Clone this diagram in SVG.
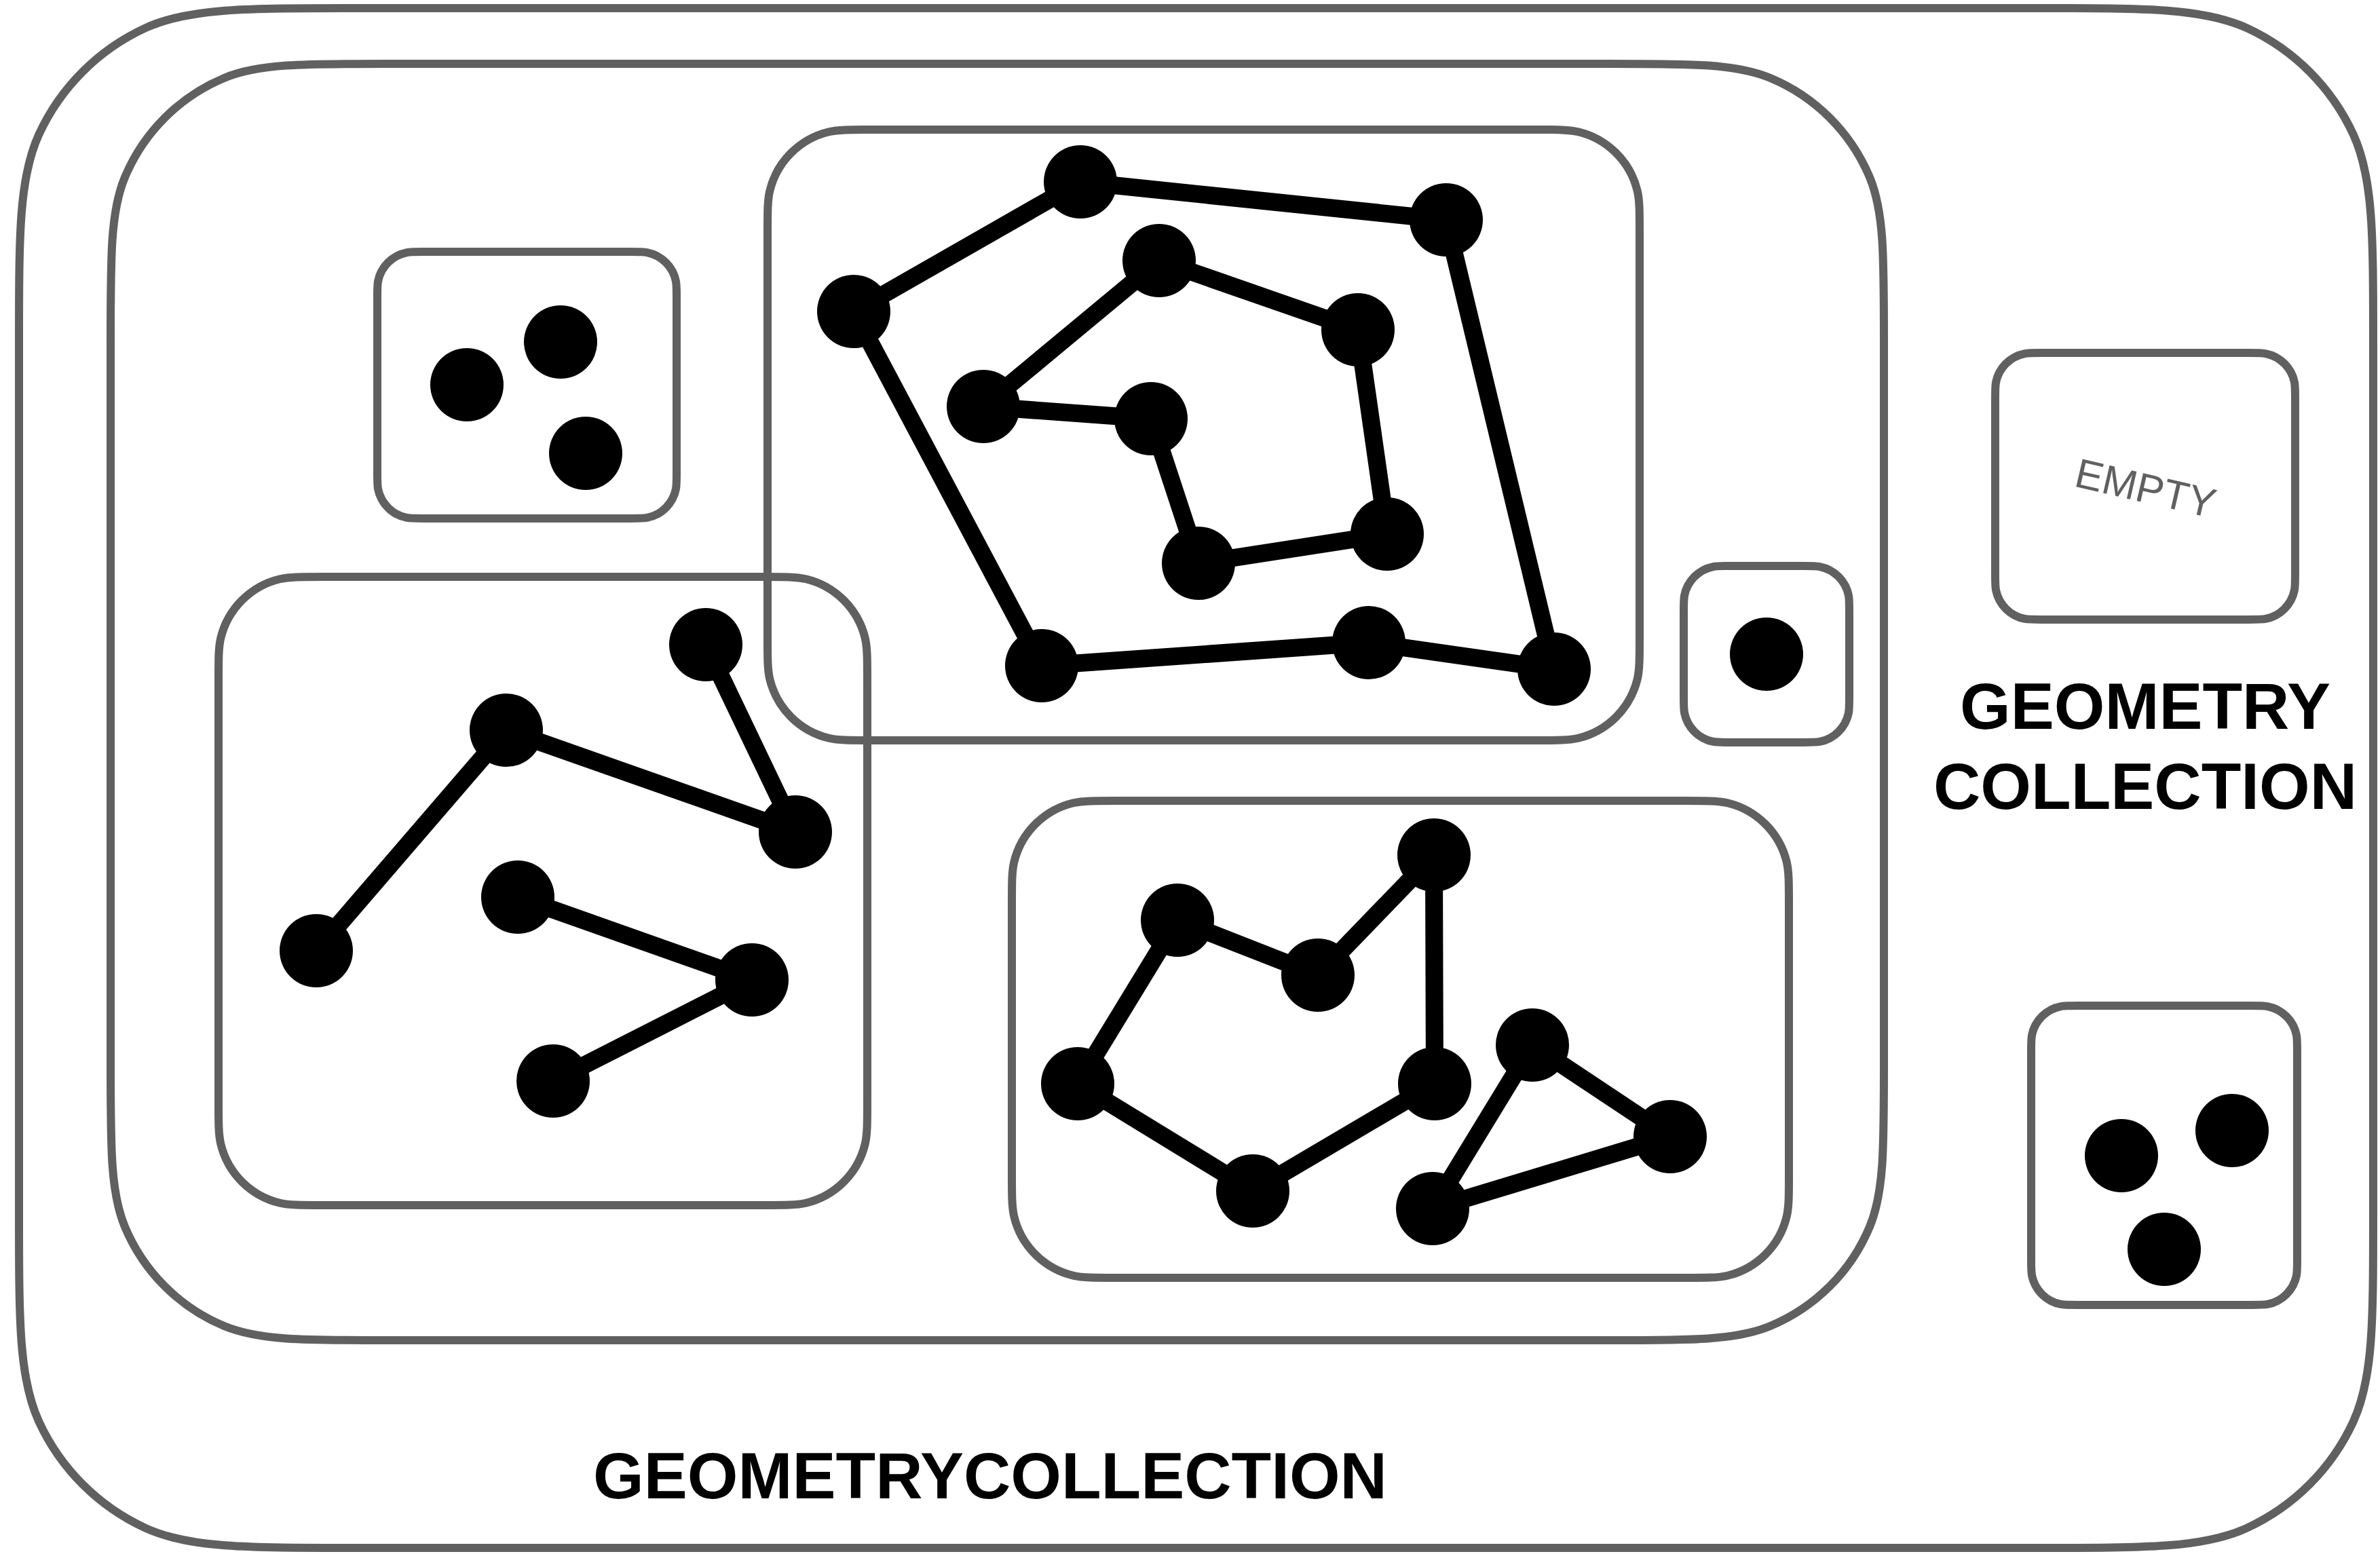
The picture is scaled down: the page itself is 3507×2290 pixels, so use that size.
<svg xmlns="http://www.w3.org/2000/svg" width="3507" height="2290" viewBox="0 0 3507 2290">
<style>
.box{fill:none;stroke:#606060;stroke-width:12;stroke-linejoin:round}
.ln{fill:none;stroke:#000;stroke-width:26;stroke-linejoin:round;stroke-linecap:round}
.pt{fill:#000}
.lbl{font-family:"Liberation Sans",Arial,Helvetica,sans-serif;font-weight:bold;font-size:96px;fill:#000;text-anchor:middle}
.empty{font-family:"Liberation Sans",Arial,Helvetica,sans-serif;font-size:61px;fill:#606060;text-anchor:middle}
</style>
<rect width="3507" height="2290" fill="#fff"/>

<g id="geometrycollection-outer">
<path class="box" d="M 524 12 H 3001 c 164.17,0 246.26,0 310.01,29.39 a 320,320 0 0 1 156.6,156.6 c 29.39,63.75 29.39,145.84 29.39,310.01 V 1785 c 0,164.17 0,246.26 -29.39,310.01 a 320,320 0 0 1 -156.6,156.6 c -63.75,29.39 -145.840,29.39 -310.01,29.39 H 524 c -164.17,0 -246.26,0 -310.01,-29.39 a 320,320 0 0 1 -156.6,-156.6 c -29.39,-63.75 -29.39,-145.84 -29.39,-310.01 V 508 c 0,-164.17 0,-246.26 29.39,-310.01 a 320,320 0 0 1 156.6,-156.6 c 63.75,-29.39 145.84,-29.39 310.01,-29.39 Z"/>
<text class="lbl" x="1459" y="2208">GEOMETRYCOLLECTION</text>
</g>

<g id="geometrycollection-inner">
<path class="box" d="M 571 94 H 2368 c 126.74,0 190.11,0 240.09,20.7 a 272,272 0 0 1 147.21,147.21 c 20.7,49.98 20.7,113.35 20.7,240.09 V 1567 c 0,126.74 0,190.11 -20.7,240.09 a 272,272 0 0 1 -147.21,147.21 c -49.98,20.7 -113.35,20.7 -240.09,20.7 H 571 c -126.74,0 -190.11,0 -240.09,-20.7 a 272,272 0 0 1 -147.21,-147.21 c -20.7,-49.98 -20.7,-113.35 -20.7,-240.09 V 502 c 0,-126.74 0,-190.11 20.7,-240.09 a 272,272 0 0 1 147.21,-147.21 c 49.98,-20.7 113.35,-20.7 240.09,-20.7 Z"/>
</g>

<g id="multipoint-a">
<path class="box" d="M 623.5 371 H 929.5 c 12.54,0 18.81,0 24.03,1.04 a 54,54 0 0 1 42.43,42.43 c 1.04,5.22 1.04,11.49 1.04,24.03 V 696.5 c 0,12.54 0,18.81 -1.04,24.03 a 54,54 0 0 1 -42.43,42.43 c -5.22,1.04 -11.49,1.04 -24.03,1.04 H 623.5 c -12.54,0 -18.81,0 -24.03,-1.04 a 54,54 0 0 1 -42.43,-42.43 c -1.04,-5.22 -1.04,-11.49 -1.04,-24.03 V 438.5 c 0,-12.54 0,-18.81 1.04,-24.03 a 54,54 0 0 1 42.43,-42.43 c 5.22,-1.04 11.49,-1.04 24.03,-1.04 Z"/>
<circle class="pt" cx="688" cy="567" r="54"/>
<circle class="pt" cx="826" cy="504" r="54"/>
<circle class="pt" cx="863" cy="668" r="54"/>
</g>

<g id="multilinestring-c">
<path class="box" d="M 475.4 850 H 1124.6 c 32.91,0 49.37,0 62.95,3.26 a 118,118 0 0 1 87.19,87.19 c 3.26,13.58 3.26,30.04 3.26,62.95 V 1622.6 c 0,32.91 0,49.37 -3.26,62.95 a 118,118 0 0 1 -87.19,87.19 c -13.58,3.26 -30.04,3.26 -62.95,3.26 H 475.4 c -32.91,0 -49.37,0 -62.95,-3.26 a 118,118 0 0 1 -87.19,-87.19 c -3.26,-13.58 -3.26,-30.04 -3.26,-62.95 V 1003.4 c 0,-32.91 0,-49.37 3.26,-62.95 a 118,118 0 0 1 87.19,-87.19 c 13.58,-3.26 30.04,-3.26 62.95,-3.26 Z"/>
<polyline class="ln" points="466,1401 746,1076 1172,1226 1040,950"/>
<polyline class="ln" points="763,1322 1108,1444 815,1593"/>
<circle class="pt" cx="466" cy="1401" r="54"/>
<circle class="pt" cx="746" cy="1076" r="54"/>
<circle class="pt" cx="1172" cy="1226" r="54"/>
<circle class="pt" cx="1040" cy="950" r="54"/>
<circle class="pt" cx="763" cy="1322" r="54"/>
<circle class="pt" cx="1108" cy="1444" r="54"/>
<circle class="pt" cx="815" cy="1593" r="54"/>
</g>

<g id="polygon-b">
<path class="box" d="M 1284.4 191 H 2262.6 c 32.91,0 49.37,0 62.95,3.26 a 118,118 0 0 1 87.19,87.19 c 3.26,13.58 3.26,30.04 3.26,62.95 V 937.6 c 0,32.91 0,49.37 -3.26,62.95 a 118,118 0 0 1 -87.19,87.19 c -13.58,3.26 -30.04,3.26 -62.95,3.26 H 1284.4 c -32.91,0 -49.37,0 -62.95,-3.26 a 118,118 0 0 1 -87.19,-87.19 c -3.26,-13.58 -3.26,-30.04 -3.26,-62.95 V 344.4 c 0,-32.91 0,-49.37 3.26,-62.95 a 118,118 0 0 1 87.19,-87.19 c 13.58,-3.26 30.04,-3.26 62.95,-3.26 Z"/>
<polygon class="ln" points="1592,268 2131,324 2290,986 2017,947 1535,981 1258,459"/>
<polygon class="ln" points="1708,384 2001,486 2044,787 1766,830 1696,617 1449,599"/>
<circle class="pt" cx="1592" cy="268" r="54"/>
<circle class="pt" cx="2131" cy="324" r="54"/>
<circle class="pt" cx="2290" cy="986" r="54"/>
<circle class="pt" cx="2017" cy="947" r="54"/>
<circle class="pt" cx="1535" cy="981" r="54"/>
<circle class="pt" cx="1258" cy="459" r="54"/>
<circle class="pt" cx="1708" cy="384" r="54"/>
<circle class="pt" cx="2001" cy="486" r="54"/>
<circle class="pt" cx="2044" cy="787" r="54"/>
<circle class="pt" cx="1766" cy="830" r="54"/>
<circle class="pt" cx="1696" cy="617" r="54"/>
<circle class="pt" cx="1449" cy="599" r="54"/>
</g>

<g id="multilinestring-d">
<path class="box" d="M 1644.4 1180 H 2482.6 c 32.91,0 49.37,0 62.95,3.26 a 118,118 0 0 1 87.19,87.19 c 3.26,13.58 3.26,30.04 3.26,62.95 V 1729.6 c 0,32.91 0,49.37 -3.26,62.95 a 118,118 0 0 1 -87.19,87.19 c -13.58,3.26 -30.04,3.26 -62.95,3.26 H 1644.4 c -32.91,0 -49.37,0 -62.95,-3.26 a 118,118 0 0 1 -87.19,-87.19 c -3.26,-13.58 -3.26,-30.04 -3.26,-62.95 V 1333.4 c 0,-32.91 0,-49.37 3.26,-62.95 a 118,118 0 0 1 87.19,-87.19 c 13.58,-3.26 30.04,-3.26 62.95,-3.26 Z"/>
<polygon class="ln" points="1588,1597 1735,1356 1942,1437 2113,1260 2114,1597 1846,1755"/>
<polygon class="ln" points="2111,1781 2258,1540 2461,1675"/>
<circle class="pt" cx="1588" cy="1597" r="54"/>
<circle class="pt" cx="1735" cy="1356" r="54"/>
<circle class="pt" cx="1942" cy="1437" r="54"/>
<circle class="pt" cx="2113" cy="1260" r="54"/>
<circle class="pt" cx="2114" cy="1597" r="54"/>
<circle class="pt" cx="1846" cy="1755" r="54"/>
<circle class="pt" cx="2111" cy="1781" r="54"/>
<circle class="pt" cx="2258" cy="1540" r="54"/>
<circle class="pt" cx="2461" cy="1675" r="54"/>
</g>

<g id="point-e">
<path class="box" d="M 2548.5 834 H 2657.5 c 12.54,0 18.81,0 24.03,1.04 a 54,54 0 0 1 42.43,42.43 c 1.04,5.22 1.04,11.49 1.04,24.03 V 1026.5 c 0,12.54 0,18.81 -1.04,24.03 a 54,54 0 0 1 -42.43,42.43 c -5.22,1.04 -11.49,1.04 -24.03,1.04 H 2548.5 c -12.54,0 -18.81,0 -24.03,-1.04 a 54,54 0 0 1 -42.43,-42.43 c -1.04,-5.22 -1.04,-11.49 -1.04,-24.03 V 901.5 c 0,-12.54 0,-18.81 1.04,-24.03 a 54,54 0 0 1 42.43,-42.43 c 5.22,-1.04 11.49,-1.04 24.03,-1.04 Z"/>
<circle class="pt" cx="2603" cy="964" r="54"/>
</g>

<g id="empty-f">
<path class="box" d="M 3007.5 520 H 3314.5 c 12.54,0 18.81,0 24.03,1.04 a 54,54 0 0 1 42.43,42.43 c 1.04,5.22 1.04,11.49 1.04,24.03 V 845.5 c 0,12.54 0,18.81 -1.04,24.03 a 54,54 0 0 1 -42.43,42.43 c -5.22,1.04 -11.49,1.04 -24.03,1.04 H 3007.5 c -12.54,0 -18.81,0 -24.03,-1.04 a 54,54 0 0 1 -42.43,-42.43 c -1.04,-5.22 -1.04,-11.49 -1.04,-24.03 V 587.5 c 0,-12.54 0,-18.81 1.04,-24.03 a 54,54 0 0 1 42.43,-42.43 c 5.22,-1.04 11.49,-1.04 24.03,-1.04 Z"/>
<text class="empty" x="3157" y="740" transform="rotate(13 3157 740)">EMPTY</text>
<text class="lbl"><tspan x="3161" y="1074">GEOMETRY</tspan><tspan x="3161" y="1192">COLLECTION</tspan></text>
</g>

<g id="multipoint-g">
<path class="box" d="M 3060.5 1482 H 3317.5 c 12.54,0 18.81,0 24.03,1.04 a 54,54 0 0 1 42.43,42.43 c 1.04,5.22 1.04,11.49 1.04,24.03 V 1855.5 c 0,12.54 0,18.81 -1.04,24.03 a 54,54 0 0 1 -42.43,42.43 c -5.22,1.04 -11.49,1.04 -24.03,1.04 H 3060.5 c -12.54,0 -18.81,0 -24.03,-1.04 a 54,54 0 0 1 -42.43,-42.43 c -1.04,-5.22 -1.04,-11.49 -1.04,-24.03 V 1549.5 c 0,-12.54 0,-18.81 1.04,-24.03 a 54,54 0 0 1 42.43,-42.43 c 5.22,-1.04 11.49,-1.04 24.03,-1.04 Z"/>
<circle class="pt" cx="3126" cy="1703" r="54"/>
<circle class="pt" cx="3289" cy="1666" r="54"/>
<circle class="pt" cx="3189" cy="1841" r="54"/>
</g>
</svg>
